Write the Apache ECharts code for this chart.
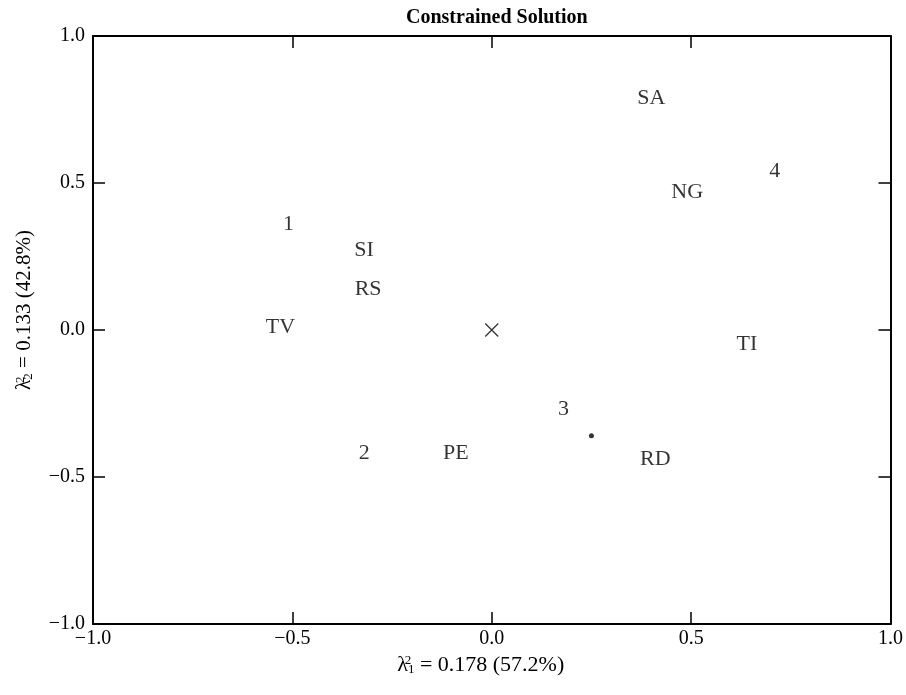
<!DOCTYPE html>
<html>
<head>
<meta charset="utf-8">
<script src="https://cdn.jsdelivr.net/npm/echarts@6/dist/echarts.min.js"></script>
<style>html,body{margin:0;padding:0;background:#fff}#c{width:906px;height:695px}</style>
</head>
<body>
<div id="c"></div>
<script>
// Data
const labelNames = ['SA', 'NG', '4', '1', 'SI', 'RS', 'TV', 'TI', '3', '2', 'PE', 'RD'];
const labelX     = [0.40, 0.49, 0.71, -0.51, -0.32, -0.31, -0.53, 0.64, 0.18, -0.32, -0.09, 0.41];
const labelY     = [0.79, 0.47, 0.54, 0.36, 0.27, 0.14, 0.01, -0.05, -0.27, -0.42, -0.42, -0.44];
const centroidPoint = [0.0, 0.0];
const dotPoint = [0.25, -0.36];
const axisMin = -1.0, axisMax = 1.0, axisStep = 0.5;

const FONT = '"Liberation Serif", "DejaVu Serif", serif';
const fmt = v => (v < 0 ? '\u2212' : '') + Math.abs(v).toFixed(1);

const labelData = labelNames.map((n, i) => ({ value: [labelX[i], labelY[i]], name: n }));

const baseAxis = {
  min: axisMin, max: axisMax, interval: axisStep,
  axisLine: { show: true, onZero: false, lineStyle: { color: '#000', width: 2 } },
  axisTick: { show: true, inside: true, length: 12, lineStyle: { color: '#000', width: 1.5 } },
  splitLine: { show: false }
};

function nameRich(size) {
  return {
    l: { fontFamily: FONT, fontSize: size, color: '#000' },
    sup: { fontFamily: FONT, fontSize: Math.round(size * 0.6), color: '#000', verticalAlign: 'top', width: 0, padding: [0, 0, 8, 0] },
    sub: { fontFamily: FONT, fontSize: Math.round(size * 0.6), color: '#000', verticalAlign: 'bottom', padding: [7, 0, 0, 0] },
    t: { fontFamily: FONT, fontSize: size, color: '#000' }
  };
}

const chart = echarts.init(document.getElementById('c'));
chart.setOption({
  backgroundColor: '#fff',
  animation: false,
  title: {
    text: 'Constrained Solution', left: 406, top: 8, padding: 0,
    textStyle: { fontFamily: FONT, fontSize: 20, fontWeight: 'bold', color: '#000' }
  },
  grid: { left: 93, right: 8, top: 36, bottom: 71 },
  xAxis: [
    Object.assign({}, baseAxis, {
      type: 'value', position: 'bottom',
      axisLabel: { fontFamily: FONT, fontSize: 20, color: '#000', margin: 5, formatter: fmt },
      name: '{l|\u03bb}{sup|2}{sub|1}{t| = 0.178 (57.2%)}',
      nameLocation: 'middle', nameGap: 28,
      nameTextStyle: { fontFamily: FONT, fontSize: 22, color: '#000', padding: [0, 22, 0, 0], rich: nameRich(22) }
    }),
    Object.assign({}, baseAxis, { type: 'value', position: 'top', axisLabel: { show: false } })
  ],
  yAxis: [
    Object.assign({}, baseAxis, {
      type: 'value', position: 'left',
      axisLabel: { fontFamily: FONT, fontSize: 20, color: '#000', margin: 8, formatter: fmt },
      name: '{l|\u03bb}{sup|2}{sub|2}{t| = 0.133 (42.8%)}',
      nameLocation: 'middle', nameGap: 58, nameRotate: 90,
      nameTextStyle: { fontFamily: FONT, fontSize: 21, color: '#000', padding: [0, 0, 0, 40], rich: nameRich(21) }
    }),
    Object.assign({}, baseAxis, { type: 'value', position: 'right', axisLabel: { show: false } })
  ],
  series: [
    {
      type: 'scatter', symbolSize: 0, data: labelData,
      label: {
        show: true, position: 'inside', formatter: p => p.name,
        fontFamily: FONT, fontSize: 22, color: '#000'
      },
      silent: true
    },
    {
      type: 'scatter', data: [centroidPoint],
      symbol: 'path://M0,0L10,10M10,0L0,10', symbolSize: 13,
      itemStyle: { color: 'none', borderColor: '#000', borderWidth: 1.3 },
      silent: true
    },
    {
      type: 'scatter', data: [dotPoint], symbol: 'circle', symbolSize: 5,
      itemStyle: { color: '#000' }, silent: true
    }
  ]
});
</script>
</body>
</html>
